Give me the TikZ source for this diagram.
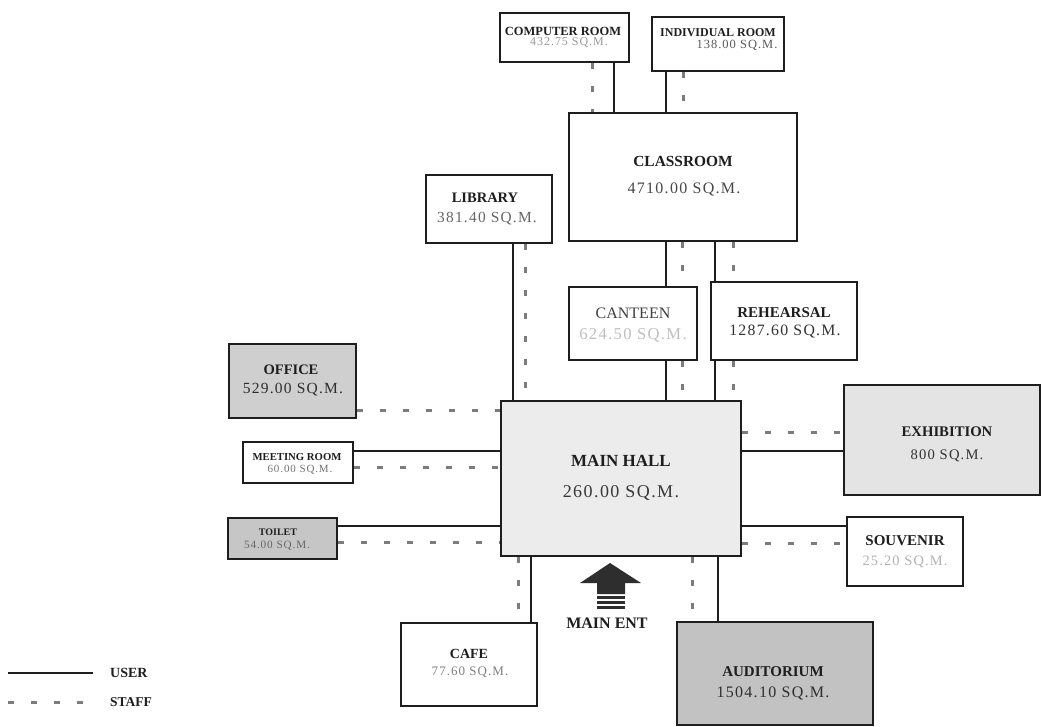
\documentclass[tikz,border=0pt]{standalone}
\usepackage{fontspec}
\setmainfont{Liberation Serif}
\newfontfamily\areafont[LetterSpace=8]{Liberation Serif}
\usetikzlibrary{calc}

\definecolor{ink}{HTML}{1E1E1E}
\definecolor{staffgray}{HTML}{7C7C7C}
\definecolor{hallfill}{HTML}{ECECEC}
\definecolor{exhfill}{HTML}{E4E4E4}
\definecolor{officefill}{HTML}{CFCFCF}
\definecolor{toiletfill}{HTML}{C6C6C6}
\definecolor{audfill}{HTML}{C2C2C2}

% vertical link from the bottom of #2 to the top of #3 at x = #4
\newcommand\vlink[4]{%
  \path (#2.south) coordinate (vlA) (#4,0) coordinate (vlX);
  \draw[#1] (vlA -| vlX) -- (#3.north -| vlX);}
% horizontal link from the right side of #2 to the left side of #3 at y = #4
\newcommand\hlink[4]{%
  \path (#2.east) coordinate (hlA) (0,#4) coordinate (hlY);
  \draw[#1] (hlA |- hlY) -- (#3.west |- hlY);}

\tikzset{
  room/.style={draw=ink, line width=1.4pt, inner sep=0pt},
  ttl/.style={inner sep=0pt, text=ink, font=\bfseries\fontsize{#1}{#1}\selectfont},
  area/.style={inner sep=0pt, font=\areafont\fontsize{#1}{#1}\selectfont},
  user/.style={draw=ink, line width=1.4pt},
  staff/.style={draw=staffgray, line width=3pt, dash pattern=on 6pt off 17pt},
}

\begin{document}
\begin{tikzpicture}[x=1pt, y=-1pt]
\useasboundingbox[fill=white] (0,0) rectangle (1042,727);

% rooms
\node[room, minimum width=129, minimum height=49] (comp) at (564.5,37.5) {};
\node[room, minimum width=132, minimum height=54] (indiv) at (718,44) {};
\node[room, minimum width=228, minimum height=128] (class) at (683,177) {};
\node[room, minimum width=126, minimum height=68] (lib) at (489,209) {};
\node[room, minimum width=128, minimum height=73] (cant) at (633,323.5) {};
\node[room, minimum width=146, minimum height=78] (reh) at (784,321) {};
\node[room, fill=hallfill, minimum width=240, minimum height=155] (hall) at (621,478.5) {};
\node[room, fill=exhfill, minimum width=196, minimum height=110] (exh) at (942,440) {};
\node[room, minimum width=116, minimum height=69] (souv) at (905,551.5) {};
\node[room, fill=officefill, minimum width=127, minimum height=74] (office) at (292.5,381) {};
\node[room, minimum width=110, minimum height=41] (meet) at (298,462.5) {};
\node[room, fill=toiletfill, minimum width=109, minimum height=41] (toilet) at (282.5,538.5) {};
\node[room, minimum width=136, minimum height=83] (cafe) at (469,664.5) {};
\node[room, fill=audfill, minimum width=196, minimum height=103] (aud) at (775,673.5) {};

% room names and areas
\node[ttl=12.5] (comp-t) at (563,31) {COMPUTER ROOM};
\node[area=12, text=black!40] (comp-a) at (569,43) {432.75 SQ.M.};
\node[ttl=12] (indiv-t) at (718,33) {INDIVIDUAL ROOM};
\node[area=12.5, text=black!65] (indiv-a) at (737,45) {138.00 SQ.M.};
\node[ttl=15.4] (class-t) at (683,161) {CLASSROOM};
\node[area=16, text=black!72] (class-a) at (684,189) {4710.00 SQ.M.};
\node[ttl=14.5] (lib-t) at (485,198) {LIBRARY};
\node[area=15.4, text=black!60] (lib-a) at (487,219) {381.40 SQ.M.};
\node[ttl=16, text=black!75, font=\fontsize{16}{16}\selectfont] (cant-t) at (633,313) {CANTEEN};
\node[area=16.6, text=black!25] (cant-a) at (633,335) {624.50 SQ.M.};
\node[ttl=15] (reh-t) at (784,313) {REHEARSAL};
\node[area=15.8, text=black!80] (reh-a) at (785,332) {1287.60 SQ.M.};
\node[ttl=17] (hall-t) at (621,461) {MAIN HALL};
\node[area=18, text=black!78] (hall-a) at (621,493) {260.00 SQ.M.};
\node[ttl=14.7] (exh-t) at (947,432) {EXHIBITION};
\node[area=14.6, text=black!80] (exh-a) at (947,456) {800 SQ.M.};
\node[ttl=15] (souv-t) at (905,541) {SOUVENIR};
\node[area=14.4, text=black!30] (souv-a) at (905,562) {25.20 SQ.M.};
\node[ttl=14.5] (office-t) at (291,370) {OFFICE};
\node[area=15.5, text=black!82] (office-a) at (293,390) {529.00 SQ.M.};
\node[ttl=10.7] (meet-t) at (297,457) {MEETING ROOM};
\node[area=11, text=black!55] (meet-a) at (300,470) {60.00 SQ.M.};
\node[ttl=10] (toilet-t) at (278,532) {TOILET};
\node[area=11.2, text=black!60] (toilet-a) at (277,546) {54.00 SQ.M.};
\node[ttl=14] (cafe-t) at (469,654) {CAFE};
\node[area=13, text=black!50] (cafe-a) at (470,672) {77.60 SQ.M.};
\node[ttl=15] (aud-t) at (773,672) {AUDITORIUM};
\node[area=16, text=black!82] (aud-a) at (773,693) {1504.10 SQ.M.};

% user and staff routes
\vlink{user}{comp}{class}{614}
\vlink{staff}{comp}{class}{592}
\vlink{user}{indiv}{class}{666}
\vlink{staff}{indiv}{class}{683}
\vlink{user}{lib}{hall}{513}
\vlink{staff}{lib}{hall}{525}
\vlink{user}{class}{cant}{666}
\vlink{staff}{class}{cant}{682}
\vlink{user}{cant}{hall}{666}
\vlink{staff}{cant}{hall}{682}
\vlink{user}{class}{reh}{715}
\vlink{staff}{class}{reh}{733}
\vlink{user}{reh}{hall}{715}
\vlink{staff}{reh}{hall}{733}
\vlink{user}{hall}{cafe}{531}
\vlink{staff}{hall}{cafe}{518}
\vlink{user}{hall}{aud}{718}
\vlink{staff}{hall}{aud}{692}

\hlink{staff}{office}{hall}{410}
\hlink{user}{meet}{hall}{451}
\hlink{staff}{meet}{hall}{467}
\hlink{user}{toilet}{hall}{526}
\hlink{staff}{toilet}{hall}{542}
\hlink{user}{hall}{exh}{451}
\hlink{staff}{hall}{exh}{432}
\hlink{user}{hall}{souv}{526}
\hlink{staff}{hall}{souv}{543}

% main entrance arrow
\fill[black!82] (580,583) -- (610,563) -- (641,583) -- (625,583) -- (625,594)
  -- (597,594) -- (597,583) -- cycle;
\fill[black!82] (597,596) rectangle (625,599);
\fill[black!82] (597,601) rectangle (625,604);
\fill[black!82] (597,606) rectangle (625,609);
\node[ttl=16] (ent) at (607,623) {MAIN ENT};

% legend
\coordinate (lu1) at (8,673);
\coordinate (lu2) at (93,673);
\coordinate (ls1) at (8,702);
\coordinate (ls2) at (95,702);
\draw[user] (lu1) -- (lu2);
\draw[staff] (ls1) -- (ls2);
\node[ttl=14, anchor=west] (leg-user) at (110,673) {USER};
\node[ttl=13.5, anchor=west] (leg-staff) at (110,702) {STAFF};
\end{tikzpicture}
\end{document}
